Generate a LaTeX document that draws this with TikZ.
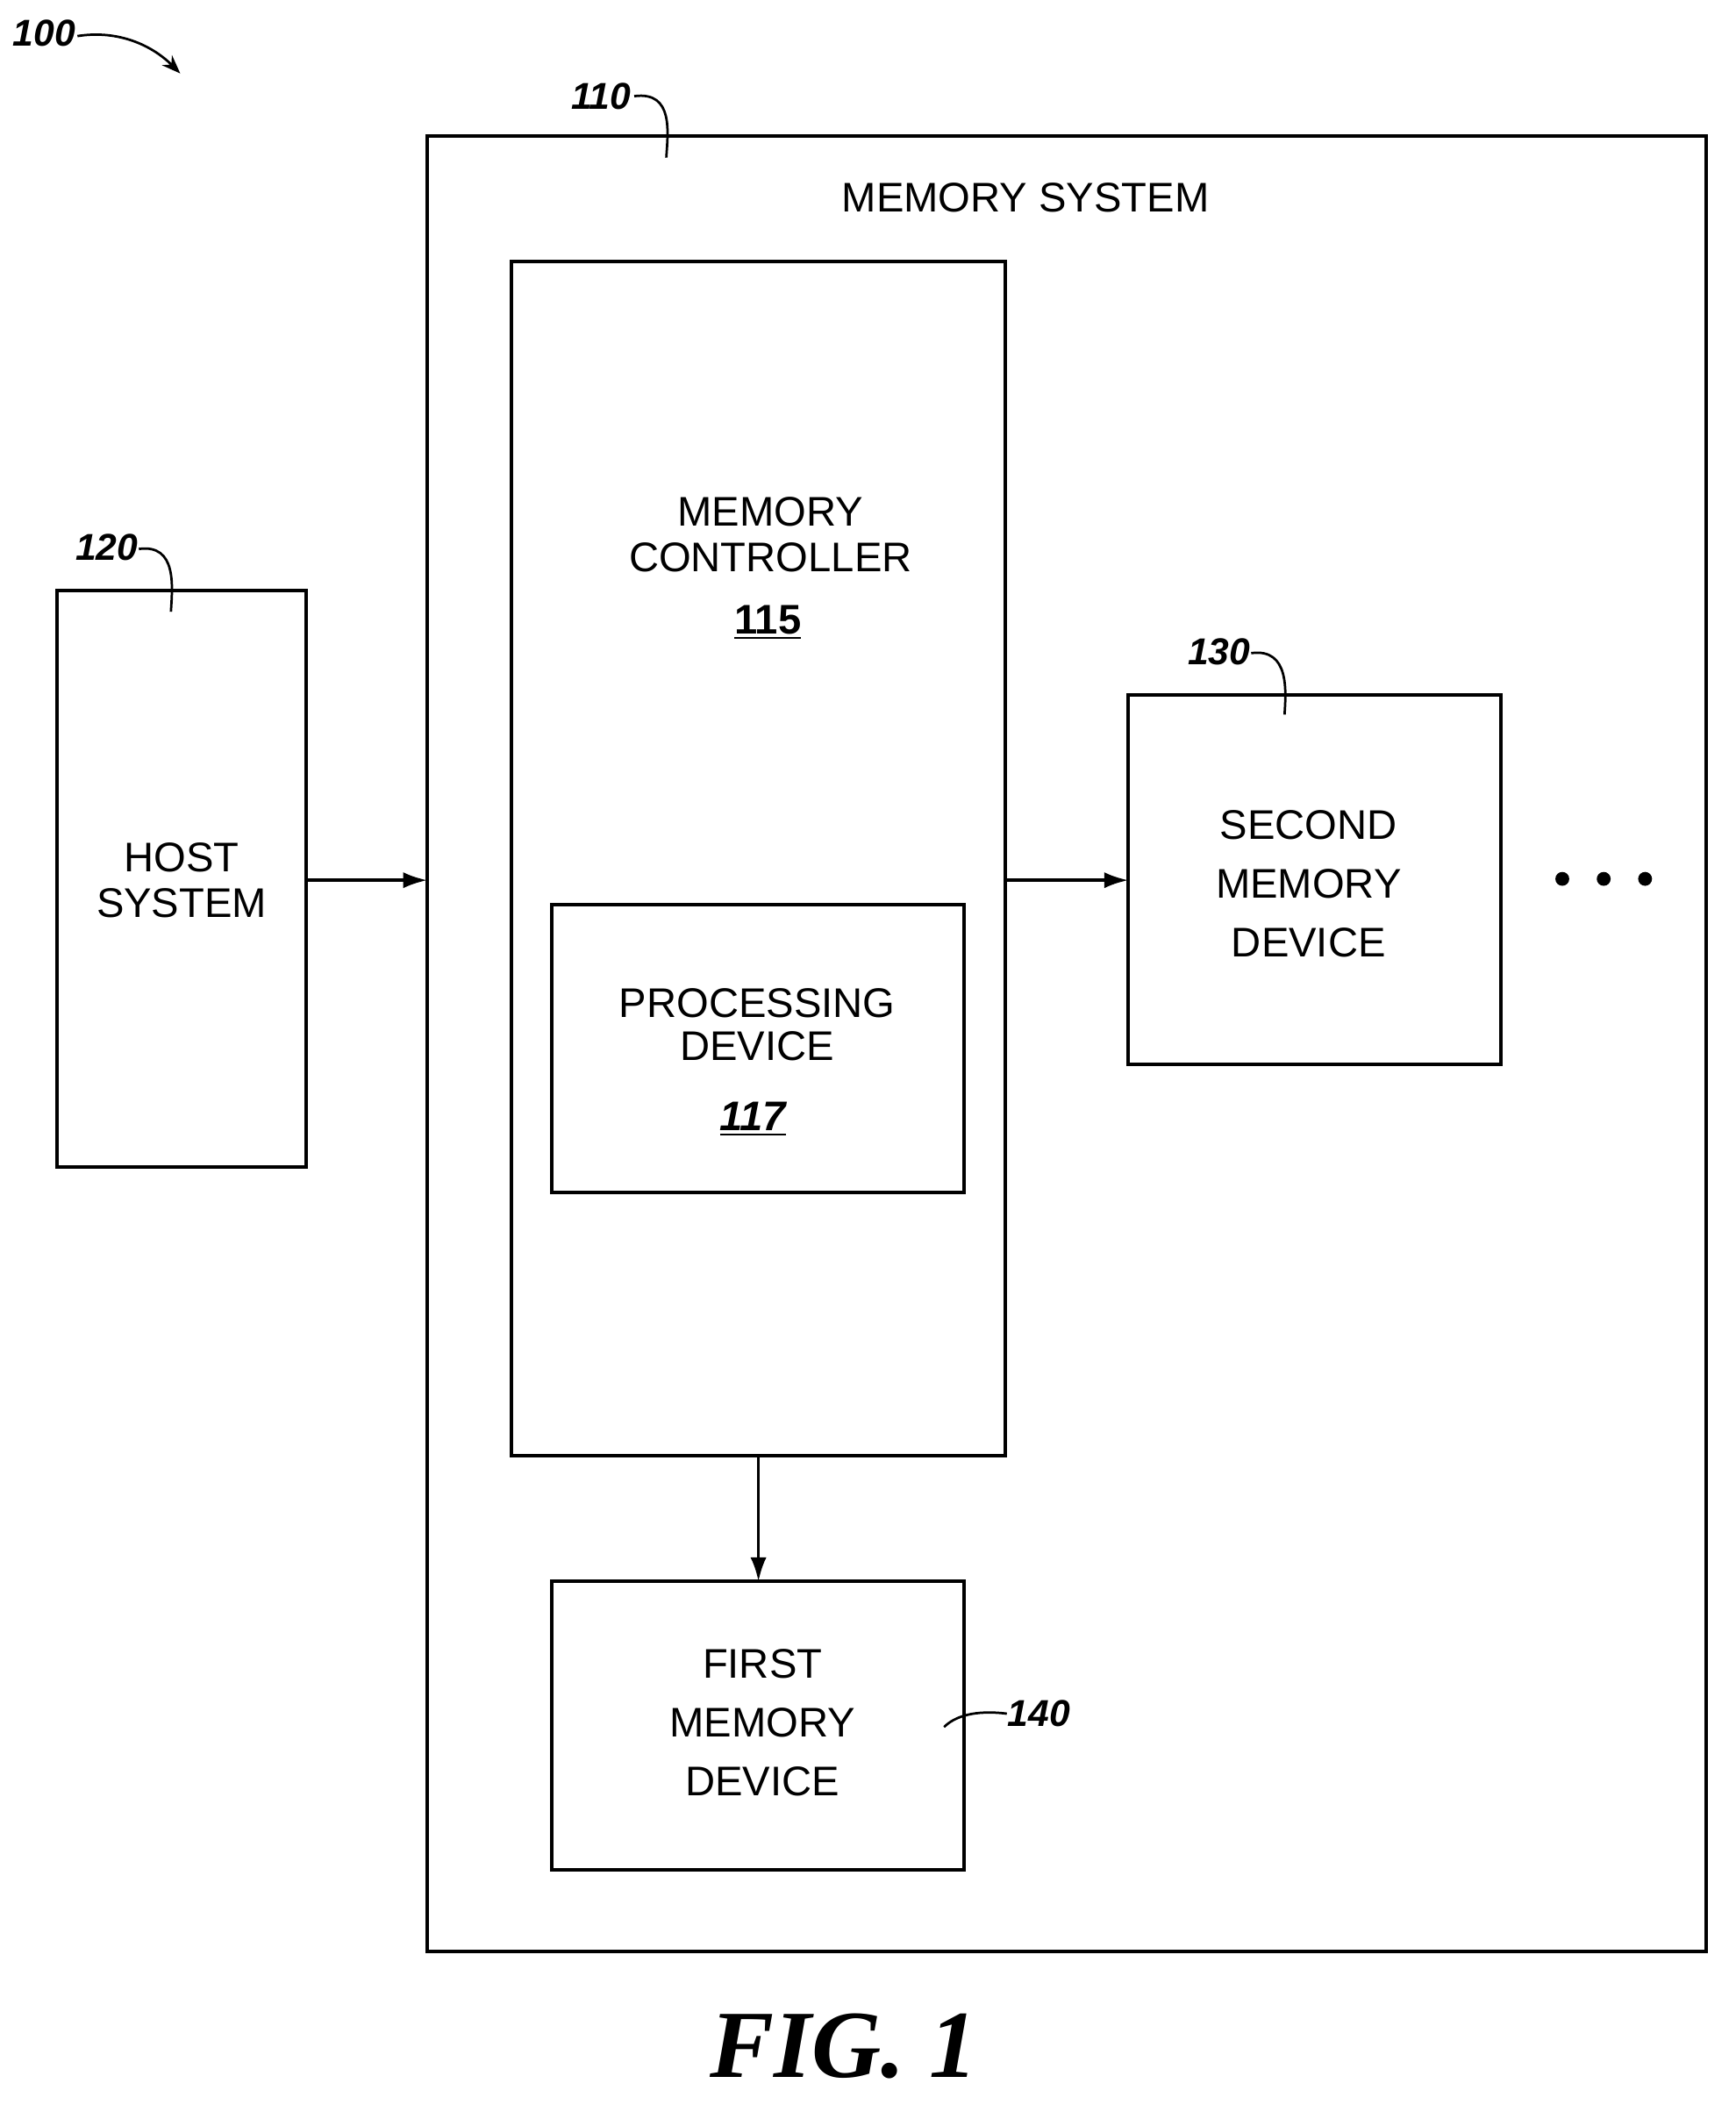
\documentclass[tikz,border=0pt]{standalone}
\usepackage{fontspec}
\setmainfont{Liberation Sans}
\newfontfamily\figfont{Liberation Serif}
\usetikzlibrary{arrows.meta}
\begin{document}
\begin{tikzpicture}[x=0.5pt,y=-0.5pt,
  box/.style={draw,line width=1.3pt},
  lab/.style={font=\fontsize{15.5}{18}\selectfont,align=center},
  ref/.style={font=\fontsize{14}{16}\selectfont\bfseries\itshape},
  arr/.style={line width=1.1pt,-{Latex[length=9pt,width=6pt]}},
  sq/.style={line width=0.9pt}]
\useasboundingbox (0,0) rectangle (1300,1576);
\draw[box] (320,102) rectangle (1278,1461);
\draw[box] (383,196) rectangle (753,1090);
\draw[box] (413,677) rectangle (722,893);
\draw[box] (43,442) rectangle (229,874);
\draw[box] (845,520) rectangle (1124,797);
\draw[box] (413,1184) rectangle (722,1400);
\coordinate (hostR) at (229,659); \coordinate (msL) at (320,659);
\coordinate (mcR) at (753,659); \coordinate (smL) at (845,659);
\coordinate (mcB) at (568,1090); \coordinate (fmT) at (568,1184);
\draw[arr] (hostR) -- (msL);
\draw[arr] (mcR) -- (smL);
\draw[arr] (mcB) -- (fmT);
\foreach \x in {1170,1201,1232} \fill (\x,658) circle (2.6pt);
\node[lab] (ms) at (768,148) {MEMORY SYSTEM};
\node[lab] (mc) at (577,400) {MEMORY\\[-1pt]CONTROLLER};
\node[font=\fontsize{15.5}{18}\selectfont\bfseries] (n115) at (575,466) {\underline{115}};
\node[lab] (pd) at (567,767) {PROCESSING\\[-2pt]DEVICE};
\node[font=\fontsize{15.5}{18}\selectfont\bfseries\itshape] (n117) at (564,838) {\underline{117}};
\node[lab] (hs) at (136,659) {HOST\\[-1pt]SYSTEM};
\node[lab,font=\fontsize{15.5}{22}\selectfont] (sm) at (980,662) {SECOND\\MEMORY\\DEVICE};
\node[lab,font=\fontsize{15.5}{22}\selectfont] (fm) at (571,1290) {FIRST\\MEMORY\\DEVICE};
\node[ref] (r100) at (33,25) {100};
\draw[sq,-{Stealth[length=7pt]}] (58,27) .. controls (90,22) and (115,35) .. (135,55);
\node[ref] (r110) at (450,72) {110};
\draw[sq] (475,72) .. controls (505,68) and (500,100) .. (499,118);
\node[ref] (r120) at (80,410) {120};
\draw[sq] (104,411) .. controls (133,407) and (129,440) .. (128,458);
\node[ref] (r130) at (913,488) {130};
\draw[sq] (937,489) .. controls (966,485) and (963,518) .. (962,535);
\node[ref] (r140) at (778,1283) {140};
\draw[sq] (754,1283) .. controls (730,1280) and (715,1285) .. (707,1293);
\node[font=\figfont\fontsize{36}{40}\selectfont\bfseries\itshape] (fig) at (632,1532) {FIG. 1};
\end{tikzpicture}
\end{document}
